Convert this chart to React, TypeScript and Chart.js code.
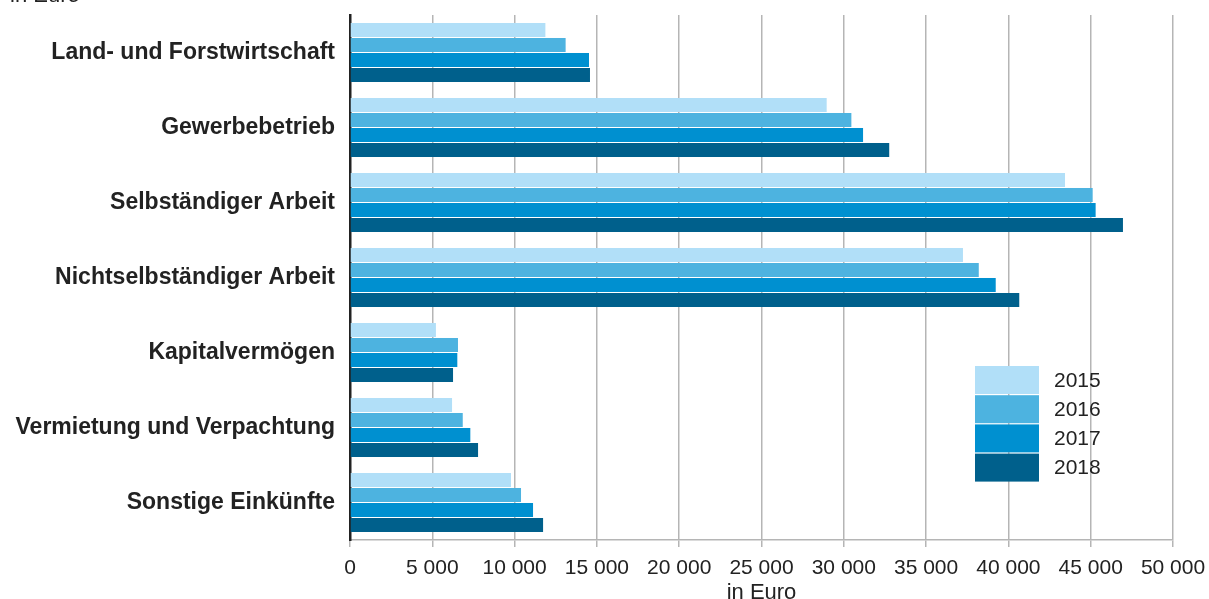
import React, { useEffect, useRef } from "react";
import { Chart, registerables } from "chart.js";

Chart.register(...registerables);

const categories = [
  "Land- und Forstwirtschaft",
  "Gewerbebetrieb",
  "Selbständiger Arbeit",
  "Nichtselbständiger Arbeit",
  "Kapitalvermögen",
  "Vermietung und Verpachtung",
  "Sonstige Einkünfte",
];
const years = ["2015", "2016", "2017", "2018"];
const values2015 = [11870, 28960, 43440, 37240, 5220, 6200, 9780];
const values2016 = [13100, 30460, 45120, 38200, 6560, 6850, 10390];
const values2017 = [14520, 31170, 45300, 39230, 6520, 7310, 11120];
const values2018 = [14580, 32760, 46960, 40660, 6260, 7780, 11730];
const seriesValues = [values2015, values2016, values2017, values2018];
const colors = ["#b1dff8", "#4db3e0", "#0090d0", "#00608c"];
const xTicks = [0, 5000, 10000, 15000, 20000, 25000, 30000, 35000, 40000, 45000, 50000];
const unitLabel = "in Euro";

const FONT = "'Liberation Sans', Arial, sans-serif";

const fmt = (v: number) => String(v).replace(/\B(?=(\d{3})+(?!\d))/g, " ");

export default function App() {
  const ref = useRef<HTMLCanvasElement | null>(null);
  useEffect(() => {
    if (!ref.current) return;
    const extras = {
      id: "extras",
      afterDraw(chart: any) {
        const ctx = chart.ctx;
        ctx.save();
        ctx.fillStyle = "#222";
        ctx.font = `22px ${FONT}`;
        ctx.textAlign = "left";
        ctx.textBaseline = "alphabetic";
        ctx.fillText(unitLabel, 10, 2);
        ctx.textAlign = "center";
        ctx.fillText(unitLabel, (chart.chartArea.left + chart.chartArea.right) / 2, 599);
        const bx = 975, by = 366, bw = 64, bh = 28, step = 29.2;
        chart.data.datasets.forEach((ds: any, i: number) => {
          ctx.fillStyle = ds.backgroundColor;
          ctx.fillRect(bx, by + i * step, bw, bh);
          ctx.fillStyle = "#222";
          ctx.font = `21px ${FONT}`;
          ctx.textAlign = "left";
          ctx.textBaseline = "middle";
          ctx.fillText(ds.label, 1054, by + i * step + bh / 2 + 1);
        });
        ctx.restore();
      },
    };
    const chart = new Chart(ref.current, {
      type: "bar",
      data: {
        labels: categories,
        datasets: years.map((y, i) => ({
          label: y,
          data: seriesValues[i],
          backgroundColor: colors[i],
          barPercentage: 0.93,
          categoryPercentage: 0.8,
        })),
      },
      options: {
        indexAxis: "y",
        animation: false,
        responsive: false,
        maintainAspectRatio: false,
        layout: { padding: { top: 15, right: 36, left: 0, bottom: 0 } },
        plugins: { legend: { display: false }, tooltip: { enabled: false } },
        scales: {
          x: {
            min: 0,
            max: 50000,
            afterBuildTicks: (scale: any) => {
              scale.ticks = xTicks.map((v) => ({ value: v }));
            },
            afterFit: (scale: any) => {
              scale.height = 59;
              scale.paddingLeft = 0;
              scale.paddingRight = 0;
            },
            grid: {
              color: "#b5b5b5",
              lineWidth: 1.5,
              tickLength: 7,
              drawTicks: true,
            },
            border: { display: true, color: "#b5b5b5", width: 1.5 },
            ticks: {
              padding: 9,
              color: "#222",
              font: { family: FONT, size: 21 },
              maxRotation: 0,
              autoSkip: false,
              callback: (v: any) => fmt(Number(v)),
            },
          },
          y: {
            afterFit: (scale: any) => {
              scale.width = 350;
              scale.paddingTop = 0;
              scale.paddingBottom = 0;
            },
            grid: { display: false, drawTicks: false },
            border: { display: true, color: "#222", width: 2.5 },
            ticks: {
              padding: 15,
              color: "#222",
              font: { family: FONT, size: 23, weight: "bold" },
            },
          },
        },
      },
      plugins: [extras],
    });
    return () => chart.destroy();
  }, []);
  return (
    <div style={{ position: "fixed", left: 0, top: 0, width: 1209, height: 599, background: "#fff" }}>
      <canvas ref={ref} width={1209} height={599} style={{ width: 1209, height: 599 }} />
    </div>
  );
}
